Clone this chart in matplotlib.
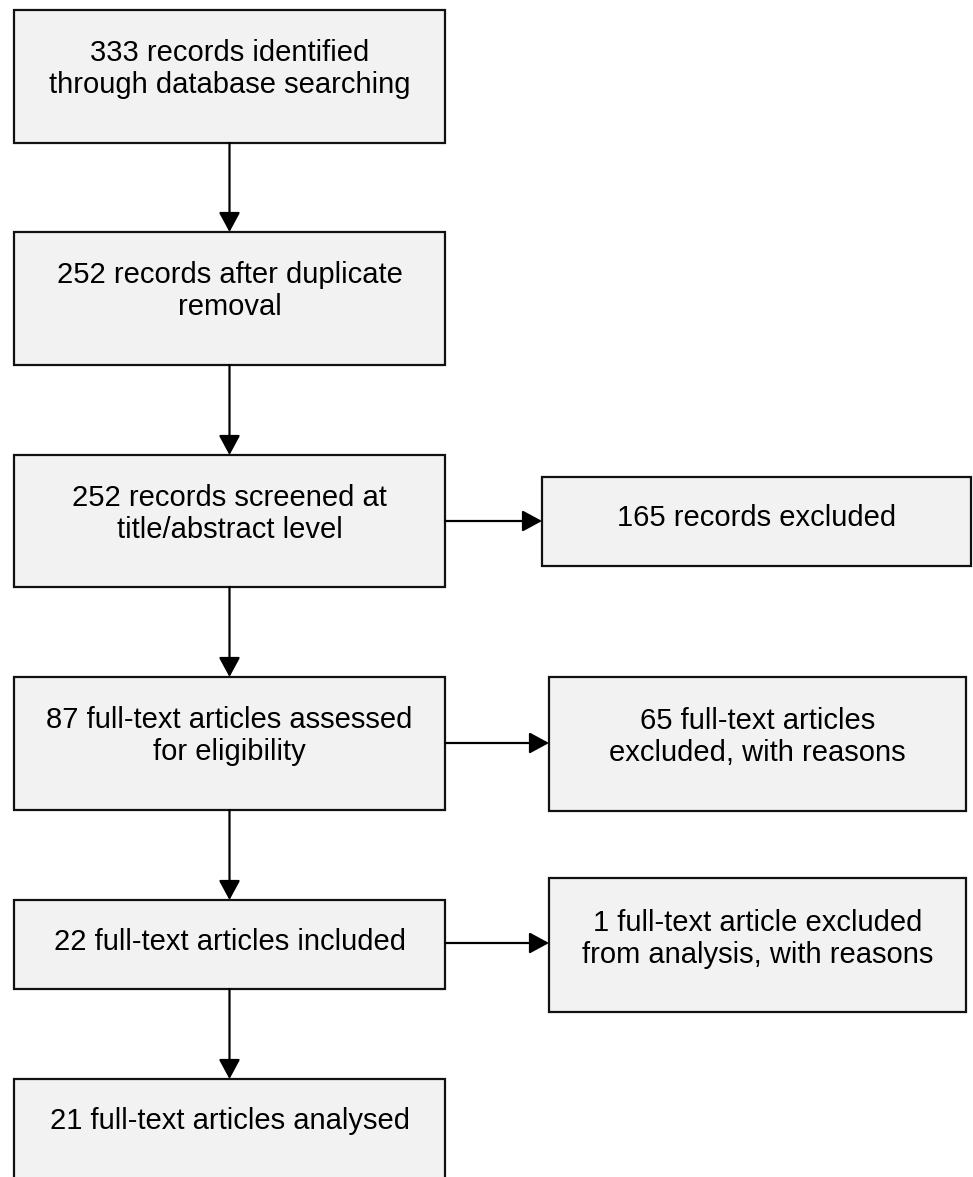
from matplotlib import pyplot as plt
from matplotlib.patches import Rectangle

plt.rcParams['font.family'] = ['Liberation Sans', 'DejaVu Sans']

# flow step texts
main_steps = ["333 records identified\nthrough database searching",
              "252 records after duplicate\nremoval",
              "252 records screened at\ntitle/abstract level",
              "87 full-text articles assessed\nfor eligibility",
              "22 full-text articles included",
              "21 full-text articles analysed"]
side_steps = ["165 records excluded",
              "65 full-text articles\nexcluded, with reasons",
              "1 full-text article excluded\nfrom analysis, with reasons"]

# layout (pixels, y down)
main_x = (14, 445)
main_boxes = [(9.5, 143), (232, 365), (455, 587), (677, 810), (900, 989), (1079, 1195)]
main_text_y = [69, 291, 514, 736, 942, 1121]
side_boxes = [((542, 971), (477, 566)),
              ((549, 966), (677, 811)),
              ((549, 966), (878, 1012))]
side_text_y = [518, 737, 939]
arrow_y = [521, 743, 943]

W, H = 973, 1177
fig = plt.figure(figsize=(W / 100, H / 100), dpi=100)
ax = fig.add_axes([0, 0, 1, 1])
ax.set_xlim(0, W)
ax.set_ylim(H, 0)
ax.axis('off')

face = '#f2f2f2'
fs = 21


def box(x0, x1, y0, y1):
    rec = Rectangle((x0, y0), x1 - x0, y1 - y0, facecolor=face,
                    edgecolor='#111111', linewidth=1.6, zorder=2)
    ax.add_patch(rec)


def arrow(x0, y0, x1, y1):
    ax.annotate('', xy=(x1, y1), xytext=(x0, y0),
                arrowprops=dict(arrowstyle='-|>,head_length=1.2,head_width=0.65',
                                color='black', lw=1.6, shrinkA=0, shrinkB=0),
                zorder=3)


cx = (main_x[0] + main_x[1]) / 2
for i, (txt, (y0, y1)) in enumerate(zip(main_steps, main_boxes)):
    box(main_x[0], main_x[1], y0, y1)
    ax.text(cx, main_text_y[i], txt, ha='center', va='center', fontsize=fs,
            linespacing=1.15, zorder=4)
    if i + 1 < len(main_boxes):
        arrow(cx, y1, cx, main_boxes[i + 1][0])

for j, (txt, ((x0, x1), (y0, y1))) in enumerate(zip(side_steps, side_boxes)):
    box(x0, x1, y0, y1)
    ax.text((x0 + x1) / 2, side_text_y[j], txt, ha='center', va='center',
            fontsize=fs, linespacing=1.15, zorder=4)
    arrow(main_x[1], arrow_y[j], x0, arrow_y[j])

fig.savefig('out.png', dpi=100)
